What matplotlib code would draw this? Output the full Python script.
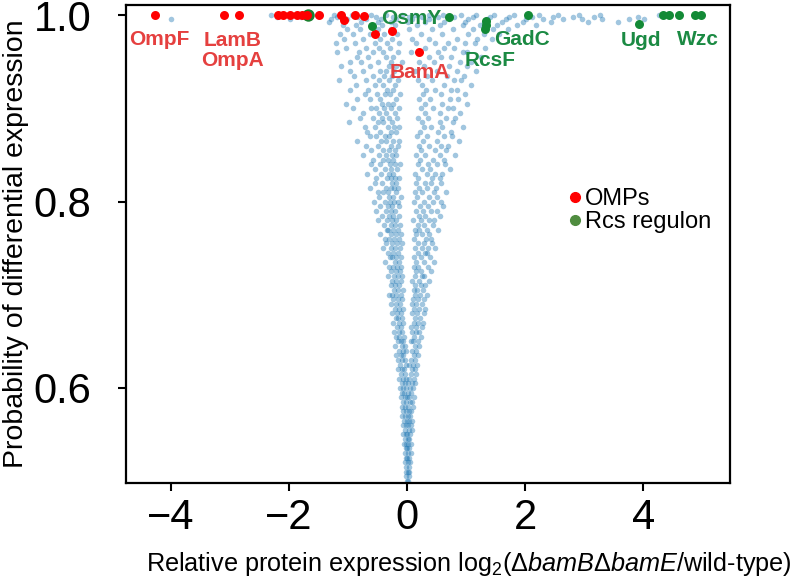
import matplotlib
matplotlib.use("Agg")
import matplotlib.pyplot as plt
from matplotlib.lines import Line2D

plt.rcParams['font.family'] = ['Liberation Sans', 'DejaVu Sans']
plt.rcParams['mathtext.fontset'] = 'custom'
plt.rcParams['mathtext.rm'] = 'Liberation Sans'
plt.rcParams['mathtext.it'] = 'Liberation Sans:italic'

# background proteins: probability level -> log2 ratios
bg_rows = {
    0.500: [0.02, 0.00],
    0.505: [-0.01, 0.03],
    0.510: [0.01, -0.02, 0.04],
    0.515: [0.03, -0.01],
    0.520: [-0.03, 0.02, 0.05],
    0.525: [0.00, 0.04, -0.02],
    0.530: [-0.04, 0.01, 0.06],
    0.535: [0.03, -0.02, 0.00],
    0.540: [-0.05, 0.02, 0.07, -0.01],
    0.545: [0.04, -0.03, 0.01],
    0.550: [-0.06, 0.00, 0.05, -0.02],
    0.555: [0.03, -0.04, 0.08],
    0.560: [-0.07, -0.01, 0.02, 0.06],
    0.565: [0.00, -0.05, 0.09, 0.04],
    0.570: [-0.03, 0.05, -0.08, 0.01],
    0.575: [0.07, -0.06, -0.02, 0.03],
    0.580: [-0.09, 0.02, 0.10, -0.04],
    0.585: [0.05, -0.01, -0.07, 0.08],
    0.590: [-0.11, -0.03, 0.04, 0.12, 0.00],
    0.595: [0.07, -0.08, 0.02, -0.05],
    0.600: [-0.12, 0.10, -0.02, 0.05, -0.06],
    0.605: [0.14, -0.09, -0.04, 0.08, 0.01],
    0.610: [-0.14, 0.03, -0.07, 0.11, -0.01],
    0.615: [0.06, -0.11, 0.15, -0.03],
    0.620: [-0.16, -0.05, 0.09, 0.13, -0.09],
    0.625: [0.04, -0.12, -0.02, 0.17, 0.10],
    0.630: [-0.08, 0.14, -0.15, 0.06, -0.04],
    0.635: [-0.18, 0.11, -0.06, 0.19, -0.10],
    0.640: [0.08, -0.13, 0.16, -0.02, -0.07],
    0.645: [-0.20, 0.13, -0.09, 0.21, -0.04],
    0.650: [0.10, -0.16, -0.06, 0.18, -0.11, 0.06],
    0.655: [-0.13, 0.23, -0.19, 0.12, -0.05],
    0.660: [0.15, -0.08, -0.22, 0.09, -0.14, 0.20],
    0.665: [-0.17, 0.07, -0.10, 0.25, 0.16],
    0.670: [-0.24, 0.11, -0.06, 0.19, -0.13, 0.27],
    0.675: [0.14, -0.19, -0.09, 0.22, -0.15],
    0.680: [-0.11, 0.28, -0.26, 0.09, -0.17, 0.17],
    0.685: [0.21, -0.14, 0.12, -0.21, -0.07, 0.31],
    0.690: [-0.18, 0.16, -0.28, 0.25, -0.12, 0.08],
    0.695: [0.10, -0.23, 0.29, -0.15, -0.08, 0.19],
    0.700: [-0.30, 0.22, -0.19, 0.13, -0.11, 0.34, -0.25],
    0.705: [0.17, -0.16, 0.27, -0.22, -0.07, 0.11],
    0.710: [-0.21, 0.31, -0.13, 0.14, -0.27, 0.24],
    0.715: [0.20, -0.26, -0.10, 0.37, -0.18, 0.09],
    0.720: [-0.33, 0.13, -0.15, 0.29, -0.22, 0.26, -0.08],
    0.725: [0.23, -0.27, 0.16, -0.12, -0.19, 0.40],
    0.730: [-0.17, 0.35, -0.31, 0.19, -0.24, 0.11, -0.10],
    0.735: [0.28, -0.21, 0.45, -0.14, -0.38, 0.15],
    0.740: [-0.29, 0.12, -0.18, 0.39, -0.26, 0.23, -0.11],
    0.745: [0.31, -0.23, 0.18, -0.33, -0.15, 0.33],
    0.750: [-0.20, 0.47, -0.41, 0.25, -0.28, 0.14, -0.12, 0.35],
    0.755: [0.19, -0.36, 0.42, -0.17, -0.25, 0.28, -0.09],
    0.760: [-0.37, 0.32, -0.22, 0.11, -0.30, 0.40, -0.14],
    0.765: [0.26, -0.19, 0.38, -0.45, -0.27, 0.16, -0.11],
    0.770: [-0.24, 0.52, -0.34, 0.21, -0.32, 0.34, -0.15, 0.13],
    0.775: [0.44, -0.28, 0.18, -0.39, -0.21, 0.29, -0.12],
    0.780: [-0.50, 0.24, -0.34, 0.46, -0.18, 0.37, -0.26, 0.10],
    0.785: [0.31, -0.23, 0.56, -0.42, -0.14, 0.20, -0.30],
    0.790: [-0.36, 0.50, -0.53, 0.27, -0.20, 0.40, -0.28, 0.15],
    0.795: [0.22, -0.45, 0.35, -0.25, -0.13, 0.61, -0.32],
    0.800: [-0.56, 0.29, -0.38, 0.57, -0.22, 0.44, -0.29, 0.12, -0.16],
    0.805: [0.37, -0.31, 0.17, -0.47, -0.24, 0.50, -0.11],
    0.810: [-0.40, 0.66, -0.49, 0.26, -0.19, 0.45, -0.33, 0.14],
    0.815: [0.49, -0.27, 0.21, -0.63, -0.15, 0.34, -0.36, -0.22],
    0.820: [-0.55, 0.31, -0.42, 0.58, -0.25, 0.40, -0.18, 0.16],
    0.825: [0.56, -0.34, 0.19, -0.52, -0.28, 0.42, -0.13, -0.21],
    0.830: [-0.44, 0.59, -0.68, 0.33, -0.23, 0.48, -0.31, 0.13],
    0.835: [0.25, -0.38, 0.73, -0.55, -0.17, 0.39, -0.27],
    0.840: [-0.61, 0.35, -0.46, 0.64, -0.29, 0.51, -0.20, 0.18, -0.12],
    0.845: [0.44, -0.33, 0.22, -0.58, -0.24, 0.63, -0.40],
    0.850: [-0.48, 0.81, -0.75, 0.30, -0.26, 0.55, -0.35, 0.15, -0.18],
    0.855: [0.66, -0.41, 0.24, -0.61, -0.21, 0.47, -0.30],
    0.860: [-0.69, 0.38, -0.50, 0.69, -0.28, 0.58, -0.16, 0.20],
    0.865: [0.50, -0.36, 0.27, -0.84, -0.23, 0.88, -0.44, -0.13],
    0.870: [-0.52, 0.76, -0.63, 0.34, -0.30, 0.62, -0.38, 0.17],
    0.875: [0.74, -0.45, 0.22, -0.67, -0.19, 0.52, -0.27],
    0.880: [-0.72, 0.41, -0.55, 0.95, -0.33, 0.60, -0.22, 0.28, -0.14],
    0.885: [0.56, -0.40, 0.26, -0.99, -0.25, 0.78, -0.49],
    0.890: [-0.57, 0.81, -0.79, 0.36, -0.31, 0.66, -0.42, 0.19, -0.17],
    0.895: [0.90, -0.47, 0.30, -0.74, -0.21, 0.55, -0.35],
    0.900: [-0.92, 0.44, -0.61, 0.77, -0.28, 0.69, -0.39, 0.23, -0.13, -0.52],
    0.905: [0.60, -0.43, 0.31, -1.04, -0.24, 1.01, -0.33],
    0.910: [-0.63, 0.87, -0.84, 0.39, -0.18, 0.73, -0.46, 0.21],
    0.915: [0.98, -0.51, 0.27, -0.71, -0.29, 0.58, -0.37, -0.12],
    0.920: [-0.97, 0.47, -0.66, 0.84, -0.34, 0.75, -0.23, 0.32],
    0.925: [0.63, -0.55, 0.25, -0.86, -0.20, 1.09, -0.41],
    0.930: [-0.70, 0.92, -1.16, 0.42, -0.30, 0.80, -0.48, 0.18, -0.15],
    0.935: [0.96, -0.58, 0.34, -0.90, -0.26, 0.67, -0.39],
    0.940: [-0.97, 0.50, -0.74, 1.17, -0.35, 0.84, -0.22, 0.13, -0.46],
    0.945: [0.71, -0.62, 0.28, -1.12, -0.18, 1.01, -0.31],
    0.950: [-0.78, 1.08, -0.96, 0.45, -0.27, 0.90, -0.50, 0.20, -0.09],
    0.955: [1.25, -0.66, 0.37, -0.85, -0.36, 0.75, -0.23, 0.58],
    0.960: [-1.19, 0.53, -0.82, 1.02, -0.41, 0.95, -0.15, 0.07, -0.57],
    0.965: [0.79, -0.70, 0.31, -1.03, -0.29, 1.32, -0.47, 0.62],
    0.970: [-0.88, 1.15, -1.21, 0.48, -0.34, 0.99, -0.55, 0.16, -0.13, 0.70],
    0.975: [1.44, -0.74, 0.38, -1.06, -0.25, 0.85, -0.46, 0.09, 1.19],
    0.980: [-1.13, 0.60, -0.92, 1.56, -0.39, 1.03, -0.63, 0.24, -0.17, 1.30],
    0.985: [1.71, -0.80, 0.42, -1.01, -0.27, 0.77, -0.50, 0.04, 1.12, 1.45],
    0.990: [-1.08, 0.55, -0.86, 2.18, -0.42, 0.94, -0.61, 0.17, -0.20, 1.24, 1.86, 1.53],
    0.993: [1.60, -1.33, 0.30, -0.78, 3.06, -0.49, 0.99, -0.28, 0.63, 1.96, 2.43, 3.58, 0.02, 1.31],
    0.996: [-4.00, 2.02, -1.98, 0.37, -1.28, 3.31, -0.69, 1.04, -0.44, 2.64, -0.18, 1.67, 0.71,
            2.31, -1.01, 2.96, 0.09, 3.76, 1.36, 4.02],
    0.998: [1.12, -2.21, 0.52, -1.79, 2.47, -0.83, 1.73, -1.19, 0.26, 2.81, -0.53, 3.17, 0.04,
            2.11, -0.24, 1.41, 0.79, 3.92],
    1.000: [-2.31, 0.61, -2.14, 1.47, -1.53, 2.56, -0.94, 0.13, -1.24, 1.82, -0.36, 2.91, 0.38,
            3.27, -0.61, 1.16, -0.09, 2.24, 0.92, 4.26],
}

# outer membrane proteins
omp_x = [-4.27, -3.10, -2.85, -2.19, -2.10, -1.98, -1.86, -1.78, -1.70, -1.49,
         -1.12, -1.07, -0.88, -0.73, -0.54, -0.25, 0.20]
omp_y = [1.000, 1.000, 1.000, 1.000, 1.000, 1.000, 1.000, 1.000, 1.000, 1.000,
         1.000, 0.995, 1.000, 0.999, 0.980, 0.983, 0.960]

# Rcs regulon
rcs_x = [-1.68, -0.59, 0.71, 1.34, 1.34, 1.32, 2.05, 3.93, 4.34, 4.44, 4.61, 4.88, 4.98]
rcs_y = [1.000, 0.988, 0.998, 0.994, 0.989, 0.985, 1.000, 0.991, 1.000, 1.000, 1.000, 1.000, 1.000]

omp_labels = [("OmpF", -4.19, 0.974), ("LamB\nOmpA", -2.95, 0.962), ("BamA", 0.22, 0.939)]
rcs_labels = [("OsmY", 0.07, 0.997), ("GadC", 1.95, 0.974), ("RcsF", 1.41, 0.951),
              ("Ugd", 3.97, 0.973), ("Wzc", 4.93, 0.974)]

bg_x = []
bg_y = []
for yv, xs in bg_rows.items():
    bg_x += xs
    bg_y += [yv] * len(xs)

fig = plt.figure(figsize=(8, 5.77), dpi=100)
ax = fig.add_axes([0.1575, 0.163, 0.755, 0.8284])

ax.scatter(bg_x, bg_y, s=16, color="#1f77b4", alpha=0.42, linewidths=0, zorder=1)
ax.scatter(rcs_x[:1], rcs_y[:1], s=80, color="#1a7f2e", linewidths=0, zorder=2)
ax.scatter(omp_x, omp_y, s=42, color="#ff0000", linewidths=0, zorder=3)
ax.scatter(rcs_x[1:], rcs_y[1:], s=42, color="#138a36", linewidths=0, zorder=3)

for txt, tx, ty in omp_labels:
    ax.text(tx, ty, txt, color="#e5403f", fontsize=15, fontweight="bold",
            ha="center", va="center", linespacing=1.1, zorder=4)
for txt, tx, ty in rcs_labels:
    ax.text(tx, ty, txt, color="#1b8a43", fontsize=15, fontweight="bold",
            ha="center", va="center", zorder=4)

handles = [Line2D([], [], marker="o", ls="", color="#ff0000", markersize=7),
           Line2D([], [], marker="o", ls="", color="#4f8c3f", markersize=7)]
ax.legend(handles, ["OMPs", "Rcs regulon"], loc="center left",
          bbox_to_anchor=(0.731, 0.57), frameon=False, fontsize=17,
          handlelength=0.6, handletextpad=0.15, labelspacing=0.05,
          borderpad=0, borderaxespad=0)

ax.set_xlim(-4.76, 5.47)
ax.set_ylim(0.498, 1.011)
ax.set_xticks([-4, -2, 0, 2, 4])
ax.set_yticks([0.6, 0.8, 1.0])
ax.tick_params(labelsize=30, width=1.5, length=6)
ax.tick_params(axis="y", pad=19)
ax.tick_params(axis="x", pad=5)
for sp in ax.spines.values():
    sp.set_linewidth(1.6)

ax.set_xlabel(r"Relative protein expression log$_2$($\Delta$$\it{bamB}$$\Delta$$\it{bamE}$/wild-type)",
              fontsize=18.2)
ax.xaxis.set_label_coords(0.567, -0.14)
ax.set_ylabel("Probability of differential expression", fontsize=20.5)
ax.yaxis.set_label_coords(-0.16, 0.5)

fig.savefig("out.png", dpi=100)
